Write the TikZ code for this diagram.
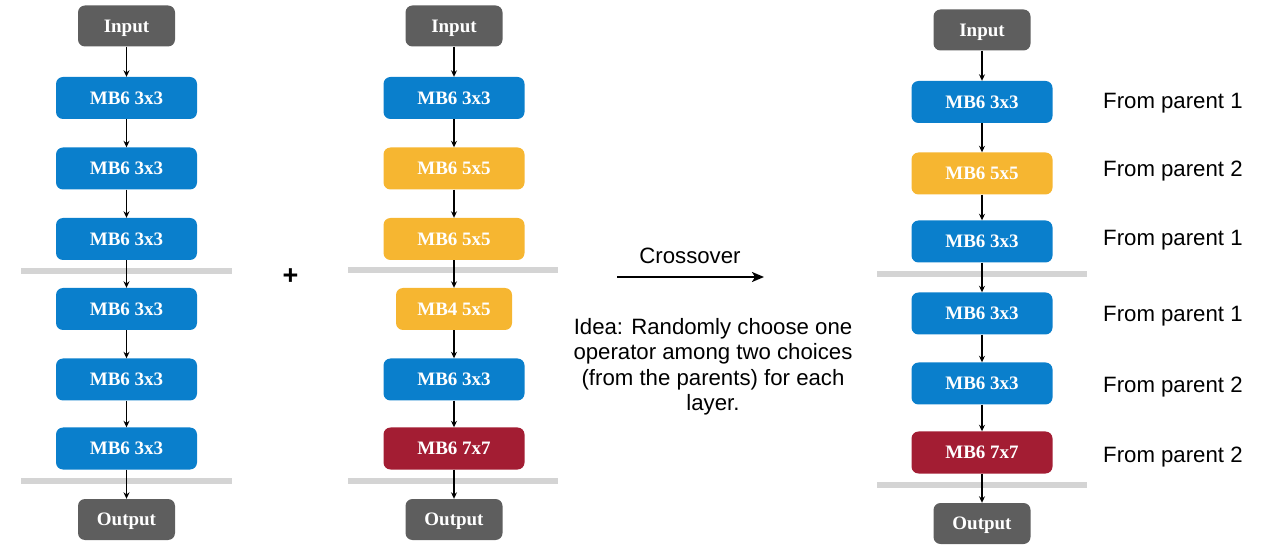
\documentclass[tikz,border=0pt]{standalone}
\usepackage{fontspec}
\setmainfont{Liberation Serif}
\newfontfamily\labelsans{Liberation Sans}
\usetikzlibrary{arrows.meta}
\definecolor{opblue}{HTML}{0A7FCC}
\definecolor{opyellow}{HTML}{F6B631}
\definecolor{opred}{HTML}{A31D33}
\definecolor{iogray}{HTML}{5E5E5E}
\definecolor{bargray}{HTML}{D4D4D4}
\tikzset{
  opbox/.style={rounded corners=7pt, inner sep=0pt, minimum width=141pt, minimum height=42pt,
    text=white, font=\fontsize{19}{22}\selectfont\bfseries, text height=12.6pt, text depth=0pt},
  blueop/.style={opbox, fill=opblue},
  yellowop/.style={opbox, fill=opyellow},
  redop/.style={opbox, fill=opred},
  ioop/.style={opbox, fill=iogray, minimum width=97pt, minimum height=41pt},
  sepbar/.style={draw=bargray, line width=6pt},
  flow/.style={-{Stealth[length=6.5pt,width=6pt]}, line width=1.2pt, black},
  sanslabel/.style={font=\labelsans\fontsize{22.2}{25.5}\selectfont, text=black, inner sep=0pt},
  parentlabel/.style={sanslabel, anchor=west, text height=15.8pt, text depth=0pt},
}
\begin{document}
\begin{tikzpicture}[x=1pt, y=-1pt]
\useasboundingbox (0,0) rectangle (1270,553);
% separator bars
\coordinate (b1a) at (21,271); \coordinate (b1b) at (232,271);
\coordinate (b2a) at (21,481); \coordinate (b2b) at (232,481);
\coordinate (b3a) at (348,270); \coordinate (b3b) at (558,270);
\coordinate (b4a) at (348,481); \coordinate (b4b) at (558,481);
\coordinate (b5a) at (877,274.5); \coordinate (b5b) at (1087,274.5);
\coordinate (b6a) at (877,485); \coordinate (b6b) at (1087,485);
\draw[sepbar] (b1a) -- (b1b);
\draw[sepbar] (b2a) -- (b2b);
\draw[sepbar] (b3a) -- (b3b);
\draw[sepbar] (b4a) -- (b4b);
\draw[sepbar] (b5a) -- (b5b);
\draw[sepbar] (b6a) -- (b6b);

% column 1
\node[ioop]   (a0) at (126.5,26)    {Input};
\node[blueop] (a1) at (126.5,98)    {MB6 3x3};
\node[blueop] (a2) at (126.5,168.5) {MB6 3x3};
\node[blueop] (a3) at (126.5,239)   {MB6 3x3};
\node[blueop] (a4) at (126.5,309)   {MB6 3x3};
\node[blueop] (a5) at (126.5,379.5) {MB6 3x3};
\node[blueop] (a6) at (126.5,448.5) {MB6 3x3};
\node[ioop]   (a7) at (126.5,519.5) {Output};

% column 2
\node[ioop]     (p0) at (454,26)    {Input};
\node[blueop]   (p1) at (454,98)    {MB6 3x3};
\node[yellowop] (p2) at (454,168.5) {MB6 5x5};
\node[yellowop] (p3) at (454,239)   {MB6 5x5};
\node[yellowop, minimum width=116pt] (p4) at (454,309) {MB4 5x5};
\node[blueop]   (p5) at (454,379.5) {MB6 3x3};
\node[redop]    (p6) at (454,448.5) {MB6 7x7};
\node[ioop]     (p7) at (454,519.5) {Output};

% column 3
\node[ioop]     (c0) at (982,30)    {Input};
\node[blueop]   (c1) at (982,102)   {MB6 3x3};
\node[yellowop] (c2) at (982,173.5) {MB6 5x5};
\node[blueop]   (c3) at (982,241.5) {MB6 3x3};
\node[blueop]   (c4) at (982,313.5) {MB6 3x3};
\node[blueop]   (c5) at (982,383.5) {MB6 3x3};
\node[redop]    (c6) at (982,452.5) {MB6 7x7};
\node[ioop]     (c7) at (982,523.5) {Output};

% arrows
\foreach \col in {a,p,c}{
  \foreach \i [evaluate=\i as \j using int(\i+1)] in {0,...,6}{
    \draw[flow] (\col\i.south) -- (\col\j.north);
  }
}

% plus
\node[sanslabel, font=\labelsans\bfseries\fontsize{27}{30}\selectfont] (plus) at (290.5,276.5) {+};

% crossover
\node[sanslabel] (cross) at (690,256) {Crossover};
\coordinate (xa) at (617,277);
\coordinate (xb) at (764,277);
\draw[-{Stealth[length=12pt,width=10pt,inset=3pt]}, line width=2pt] (xa) -- (xb);
\node[sanslabel, align=center] (idea) at (713,366.7) {Idea: Randomly choose one\\operator among two choices\\(from the parents) for each\\layer.};

% parent labels
\node[parentlabel] (l1) at (1103,100.5) {From parent 1};
\node[parentlabel] (l2) at (1103,169)   {From parent 2};
\node[parentlabel] (l3) at (1103,237.5) {From parent 1};
\node[parentlabel] (l4) at (1103,313.7) {From parent 1};
\node[parentlabel] (l5) at (1103,384.5) {From parent 2};
\node[parentlabel] (l6) at (1103,454.5) {From parent 2};
\end{tikzpicture}
\end{document}
